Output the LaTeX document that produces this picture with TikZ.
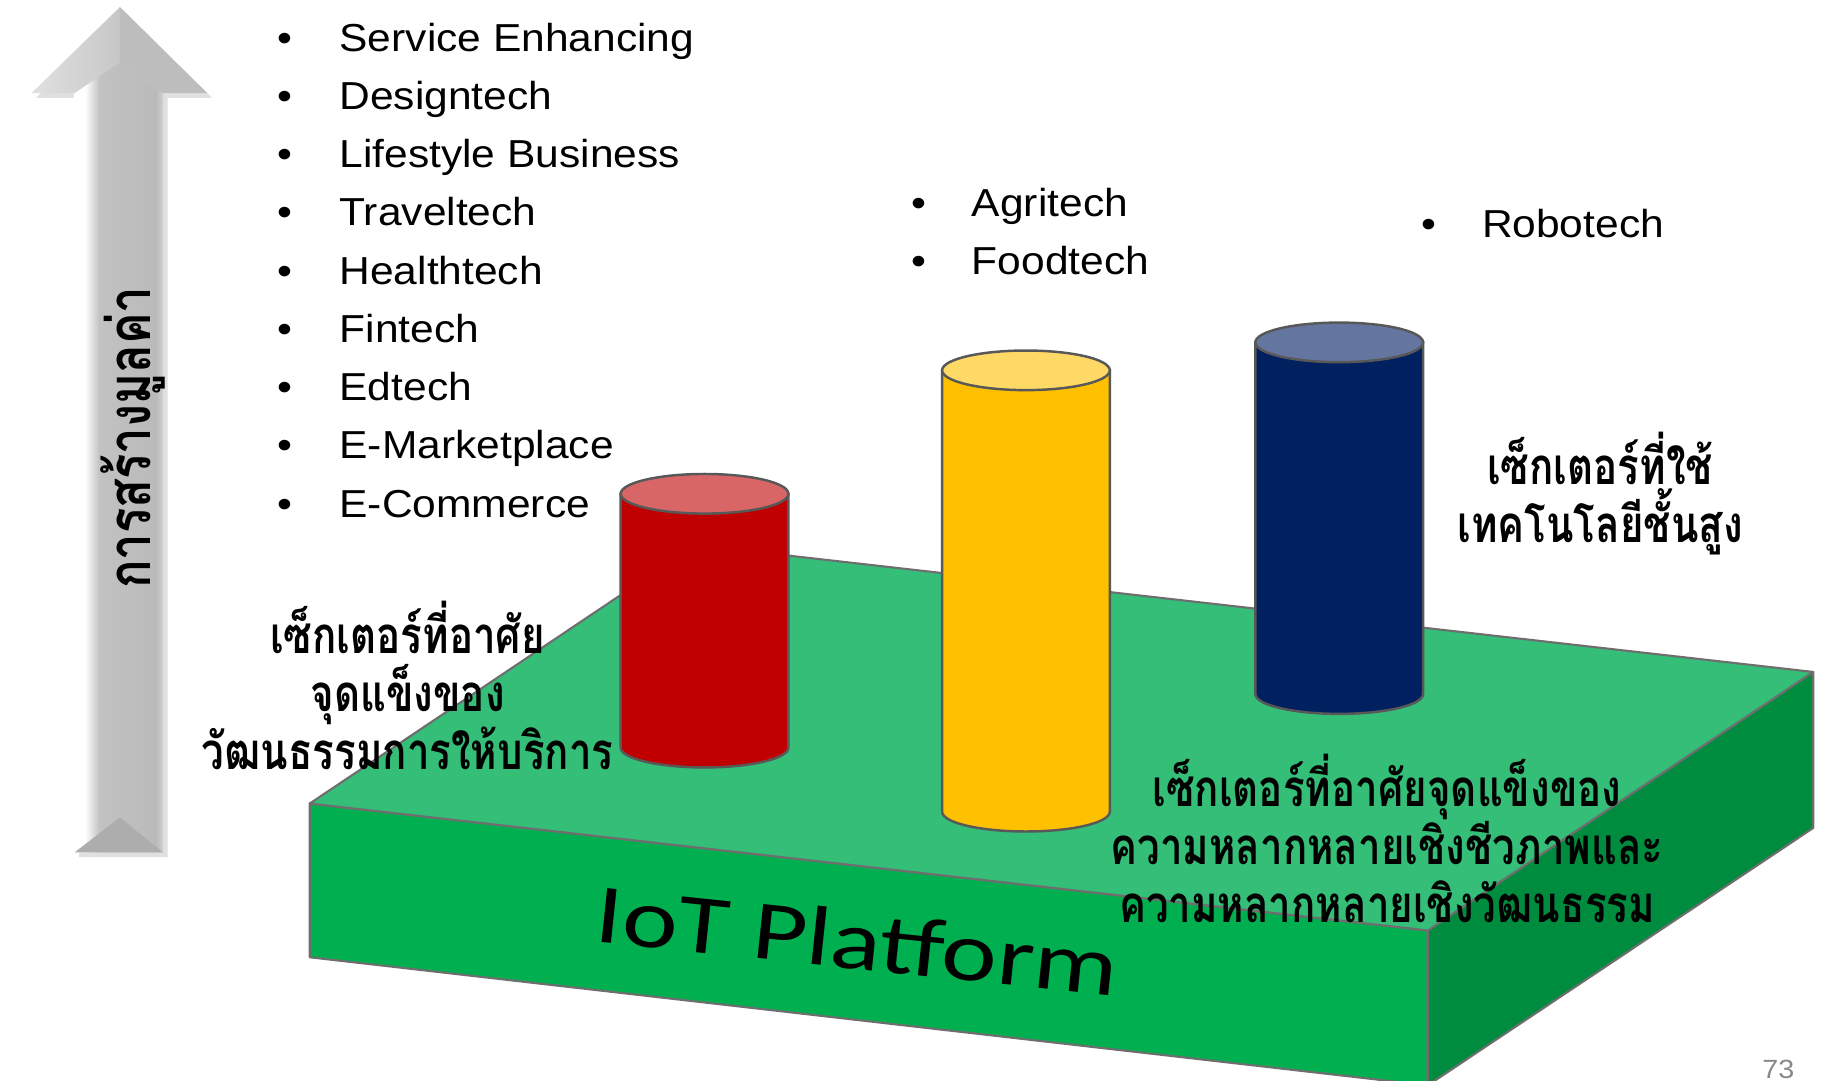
\documentclass[tikz,border=0pt]{standalone}
\usepackage{fontspec}
\setmainfont{Liberation Sans}
\newfontfamily\listfont{Liberation Sans}[FakeStretch=1.09]
\newfontfamily\thaifont{Loma}[Script=Thai, FakeStretch=0.79]
\newfontfamily\iotfont{Carlito}[FakeStretch=1.25]
\usetikzlibrary{positioning}

\definecolor{topGreen}{RGB}{52,190,120}
\definecolor{frontGreen}{RGB}{0,176,80}
\definecolor{sideGreen}{RGB}{0,140,62}
\definecolor{edgeGrey}{RGB}{110,110,110}
\definecolor{cRed}{RGB}{192,0,0}
\definecolor{cRedTop}{RGB}{217,102,102}
\definecolor{cYellow}{RGB}{255,192,0}
\definecolor{cYellowTop}{RGB}{255,217,102}
\definecolor{cBlue}{RGB}{0,32,96}
\definecolor{cBlueTop}{RGB}{100,118,160}
\definecolor{pageGrey}{RGB}{137,137,137}

\pgfdeclarehorizontalshading{shaftshade}{100bp}{color(0bp)=(white); color(25bp)=(white); color(31bp)=(white); color(39bp)=(black!24); color(71bp)=(black!27); color(75bp)=(black!18); color(100bp)=(black!18)}

\begin{document}
\begin{tikzpicture}[
    x=0.11645mm, y=-0.11645mm,
    face/.style={draw=edgeGrey, line width=0.6pt, line join=round},
    cyl/.style={draw=edgeGrey!80!black, line width=0.7pt},
    dot/.style={anchor=base, inner sep=0pt, font=\listfont\fontsize{11.1}{12}\selectfont},
    item/.style={anchor=base west, inner sep=0pt, font=\listfont\fontsize{11.1}{12}\selectfont},
    sector/.style={align=center, inner sep=0pt, font=\thaifont\bfseries\fontsize{14.5}{16.5}\selectfont},
]
\useasboundingbox (0,0) rectangle (1568,928);

% IoT platform block
\filldraw[face, fill=frontGreen] (266,690) -- (1226,799) -- (1226,932) -- (266,822) -- cycle;
\filldraw[face, fill=sideGreen] (1226,799) -- (1557,577) -- (1557,711) -- (1226,932) -- cycle;
\filldraw[face, fill=topGreen] (266,690) -- (597,468) -- (1557,577) -- (1226,799) -- cycle;
\node[rotate=-6, anchor=base, inner sep=0pt, font=\iotfont\fontsize{24}{26}\selectfont] (iot) at (734,832) {IoT Platform};

% Cylinders
\foreach \cx/\ty/\by/\body/\lid in {605/424/642/cRed/cRedTop, 881/318/697/cYellow/cYellowTop, 1150/294/596/cBlue/cBlueTop} {
  \filldraw[cyl, fill=\body] (\cx-72,\ty) -- (\cx-72,\by) arc[start angle=180, end angle=0, x radius=72, y radius=17] -- (\cx+72,\ty) -- cycle;
  \filldraw[cyl, fill=\lid] (\cx,\ty) ellipse[x radius=72, y radius=17];
}

% Value arrow
\fill[black, opacity=0.12] (106,9) -- (182,84) -- (144,84) -- (144,736) -- (68,736) -- (68,84) -- (31,84) -- cycle;
\shade[shading=shaftshade] (64,732) -- (64,80) -- (103,53) -- (140,80) -- (140,732) -- cycle;
\shade[left color=black!12, right color=black!22] (103,6) -- (27,80) -- (64,80) -- (103,53) -- cycle;
\fill[black!26] (103,6) -- (103,53) -- (140,80) -- (178,80) -- cycle;
\fill[black!32] (64,732) -- (103,702) -- (140,732) -- cycle;
\node[rotate=90, inner sep=0pt, font=\thaifont\bfseries\fontsize{17}{18}\selectfont] (value) at (114,376) {การสร้างมูลค่า};

% Sector lists
\foreach \txt [count=\i] in {Service Enhancing, Designtech, Lifestyle Business, Traveltech, Healthtech, Fintech, Edtech, E-Marketplace, E-Commerce} {
  \node[dot] (ldot\i) at (245,{44+50*(\i-1)}) {\textbullet};
  \node[item] (left\i) at (291,{44+50*(\i-1)}) {\txt};
}
\foreach \txt [count=\i] in {Agritech, Foodtech} {
  \node[dot] (mdot\i) at (789,{186+50*(\i-1)}) {\textbullet};
  \node[item] (mid\i) at (834,{186+50*(\i-1)}) {\txt};
}
\node[dot] (rdot) at (1227,204) {\textbullet};
\node[item] (robo) at (1272,204) {Robotech};

% Sector captions
\node[sector] (service) at (350,589) {เซ็กเตอร์ที่อาศัย\\จุดแข็งของ\\วัฒนธรรมการให้บริการ};
\node[sector] (hightech) at (1374,424) {เซ็กเตอร์ที่ใช้\\เทคโนโลยีชั้นสูง};
\node[sector] (diverse) at (1191,720) {เซ็กเตอร์ที่อาศัยจุดแข็งของ\\ความหลากหลายเชิงชีวภาพและ\\ความหลากหลายเชิงวัฒนธรรม};

% Page number
\node[anchor=base, inner sep=0pt, text=pageGrey, font=\listfont\fontsize{7.5}{9}\selectfont] (pnum) at (1527,926) {73};
\end{tikzpicture}
\end{document}
